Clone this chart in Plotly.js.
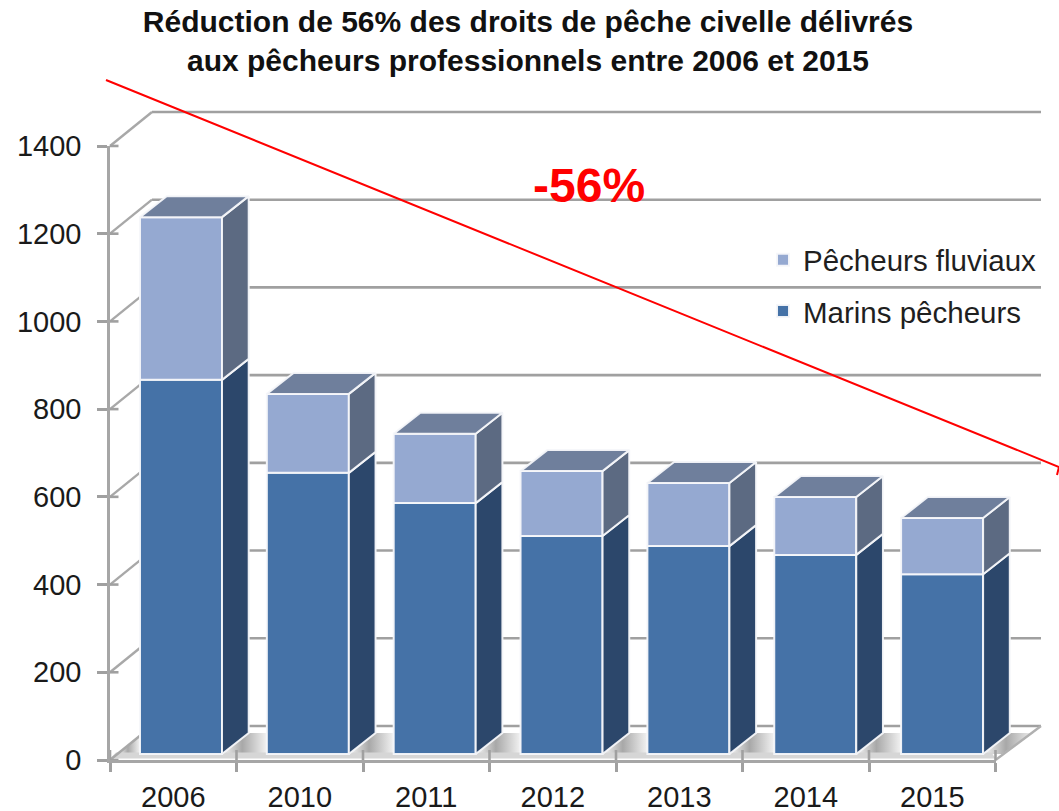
<!DOCTYPE html>
<html>
<head>
<meta charset="utf-8">
<script src="https://cdn.plot.ly/plotly-3.0.1.min.js"></script>
<style>html,body{margin:0;padding:0;background:#fff}#chart{width:1059px;height:811px}</style>
</head>
<body>
<div id="chart"></div>
<script>
// ---- data ----
const categories = ['2006','2010','2011','2012','2013','2014','2015'];
const marins     = [853, 641, 572, 497, 474, 454, 410];
const fluviaux   = [371, 180, 158, 148, 144, 132, 128];
const yTicks     = [0, 200, 400, 600, 800, 1000, 1200, 1400];
const seriesNames = ['Marins pêcheurs', 'Pêcheurs fluviaux'];

// ---- page geometry: pixel <-> data scales ----
const W = 1059, H = 811;
const FONT = '"Liberation Sans", Arial, sans-serif';
const catPx = 126.5, cat0Px = 173.25, unitPx = 0.4386, zeroPx = 760;
const X = px => (px - cat0Px) / catPx;
const V = py => (zeroPx - py) / unitPx;
const fullX = [X(0), X(W)], fullY = [V(H), V(0)];

const barWidth = 82 / catPx, barShift = 7.75 / catPx, barBase = 6 / unitPx;
const barPitch = 126.85 / catPx;
const depthX = 26.7 / catPx, depthV = 21 / unitPx;
const wallX = 42 / catPx, wallV = 34 / unitPx;
const EDGE = 'rgba(245,247,250,0.95)', EDGE_W = 2;

const totals = marins.map((m, i) => m + fluviaux[i]);
const idx = categories.map((_, i) => i);
const barC = i => i * barPitch + barShift;
const L = i => barC(i) - barWidth / 2;
const R = i => barC(i) + barWidth / 2;
const gridRight = X(1041), axisLeft = X(110), axisRight = X(995.5);

// ---- helpers ----
function polys(list) {
  const x = [], y = [];
  list.forEach(p => { p.forEach(q => { x.push(q[0]); y.push(q[1]); }); x.push(p[0][0]); y.push(p[0][1]); x.push(null); y.push(null); });
  return {x, y};
}
function face(list, color, xa, ya) {
  const g = polys(list);
  return {x: g.x, y: g.y, xaxis: xa, yaxis: ya, mode: 'lines', fill: 'toself', fillcolor: color,
    line: {color: EDGE, width: EDGE_W}, hoverinfo: 'skip', showlegend: false, type: 'scatter'};
}
function seg(list, color, width) {
  const x = [], y = [];
  list.forEach(s => { x.push(s[0], s[2], null); y.push(s[1], s[3], null); });
  return {x, y, xaxis: 'x', yaxis: 'y', mode: 'lines', line: {color, width}, hoverinfo: 'skip', showlegend: false, type: 'scatter'};
}

const traces = [];

// back layer: floor shading
const floorTopV = barBase + depthV;
const wedgeScale = [[0, '#f7f7f7'], [0.45, '#a8a8a8'], [1, '#f2f2f2']];
function wedge(pts) {
  const g = polys([pts]);
  traces.push({x: g.x, y: g.y, xaxis: 'x', yaxis: 'y', mode: 'none', fill: 'toself',
    fillgradient: {type: 'horizontal', colorscale: wedgeScale}, hoverinfo: 'skip', showlegend: false, type: 'scatter'});
}
wedge([[X(118), barBase], [X(137), floorTopV - 4 / unitPx], [L(0), floorTopV - 4 / unitPx], [L(0), barBase]]);
idx.slice(0, -1).forEach(i => wedge([[R(i), barBase], [R(i) + depthX, floorTopV], [L(i + 1), floorTopV], [L(i + 1), barBase]]));
wedge([[R(6), barBase], [R(6) + depthX, floorTopV], [X(1034), floorTopV], [X(1002), barBase]]);
traces.push({x: [axisLeft, axisRight, axisRight - 4 / catPx, axisLeft + 6 / catPx, axisLeft],
  y: [-1, -1, barBase - 1, barBase - 1, -1].map(v => v + 2 / unitPx), xaxis: 'x', yaxis: 'y', mode: 'none', fill: 'toself',
  fillcolor: '#d6d6d6', hoverinfo: 'skip', showlegend: false, type: 'scatter'});

// back layer: walls
traces.push(seg(yTicks.map(t => [axisLeft + wallX, t + wallV, gridRight, t + wallV]), '#a0a0a0', 2.6));
traces.push(seg(yTicks.map(t => [axisLeft, t, axisLeft + wallX, t + wallV]), '#a8a8a8', 2.4));
traces.push(seg([[axisRight, 0, gridRight, wallV]], '#b0b0b0', 2.4));
traces.push(seg(yTicks.map(t => [axisLeft, t, axisLeft + 8.5 / catPx, t]), '#a0a0a0', 2.6));
traces.push(seg(idx.concat([7]).map(i => [i - 0.5, 0, i - 0.5, 10 / unitPx]), '#a0a0a0', 2.6));

// tick axes
traces.push({x: categories, y: totals, xaxis: 'x2', yaxis: 'y2', mode: 'none', hoverinfo: 'skip', showlegend: false, type: 'scatter'});

// bars: front faces
traces.push({type: 'bar', name: seriesNames[0], x: idx.map(barC), y: marins, base: idx.map(() => barBase), width: barWidth,
  xaxis: 'x3', yaxis: 'y3', marker: {color: '#4572a7', line: {color: EDGE, width: EDGE_W}},
  legendgroup: 'a', legendrank: 2, hoverinfo: 'y'});
traces.push({type: 'bar', name: seriesNames[1], x: idx.map(barC), y: fluviaux, base: marins.map(m => m + barBase), width: barWidth,
  xaxis: 'x3', yaxis: 'y3', marker: {color: '#95a9d1', line: {color: EDGE, width: EDGE_W}},
  legendgroup: 'b', legendrank: 1, hoverinfo: 'y'});

// bars: side and top faces
traces.push(face(idx.map(i => [[R(i), barBase], [R(i) + depthX, barBase + depthV], [R(i) + depthX, barBase + marins[i] + depthV], [R(i), barBase + marins[i]]]), '#2c476b', 'x3', 'y3'));
traces.push(face(idx.map(i => [[R(i), barBase + marins[i]], [R(i) + depthX, barBase + marins[i] + depthV], [R(i) + depthX, barBase + totals[i] + depthV], [R(i), barBase + totals[i]]]), '#5c6a82', 'x3', 'y3'));
traces.push(face(idx.map(i => [[L(i), barBase + totals[i]], [L(i) + depthX, barBase + totals[i] + depthV], [R(i) + depthX, barBase + totals[i] + depthV], [R(i), barBase + totals[i]]]), '#6f7f9c', 'x3', 'y3'));

const hiddenAxis = {visible: false, showgrid: false, zeroline: false, fixedrange: true};

const layout = {
  width: W, height: H,
  margin: {l: 0, r: 0, t: 0, b: 0, pad: 0},
  paper_bgcolor: '#ffffff', plot_bgcolor: 'rgba(0,0,0,0)',
  barmode: 'overlay',
  font: {family: FONT, color: '#1a1a1a'},
  title: {
    text: 'Réduction de 56% des droits de pêche civelle délivrés<br>aux pêcheurs professionnels entre 2006 et 2015',
    font: {family: FONT, size: 30, color: '#111', weight: 'bold'},
    x: 528 / W, xanchor: 'center', xref: 'paper', y: 1 - 32 / H, yanchor: 'top', yref: 'container'
  },
  xaxis:  Object.assign({domain: [0, 1], range: fullX, anchor: 'y'}, hiddenAxis),
  yaxis:  Object.assign({domain: [0, 1], range: fullY, anchor: 'x'}, hiddenAxis),
  xaxis3: Object.assign({domain: [0, 1], range: fullX, anchor: 'y3'}, hiddenAxis),
  yaxis3: Object.assign({domain: [0, 1], range: fullY, anchor: 'x3'}, hiddenAxis),
  xaxis2: {
    domain: [110 / W, 995.5 / W], anchor: 'y2', type: 'category', categoryorder: 'array', categoryarray: categories,
    range: [-0.5, 6.5], tickson: 'boundaries', ticks: 'outside', ticklen: 9, tickwidth: 2.6, tickcolor: '#a0a0a0',
    showline: true, linecolor: '#a6a6a6', linewidth: 2.6, showgrid: false, zeroline: false, fixedrange: true,
    tickfont: {family: FONT, size: 29, color: '#1a1a1a'}, ticklabelstandoff: 9
  },
  yaxis2: {
    domain: [(H - zeroPx) / H, (H - 146) / H], anchor: 'x2', range: [0, 1400], tickmode: 'array', tickvals: yTicks,
    ticks: 'outside', ticklen: 10, tickwidth: 2.6, tickcolor: '#a0a0a0',
    showline: true, linecolor: '#a6a6a6', linewidth: 2.6, showgrid: false, zeroline: false, fixedrange: true,
    tickfont: {family: FONT, size: 29, color: '#1a1a1a'}, ticklabelstandoff: 10
  },
  legend: {
    x: 763 / W, xanchor: 'left', y: 1 - 234 / H, yanchor: 'top', bgcolor: 'rgba(0,0,0,0)',
    traceorder: 'grouped', tracegroupgap: 10, itemwidth: 30, itemclick: false, itemdoubleclick: false,
    font: {family: FONT, size: 29.5, color: '#1f1f1f'}
  },
  shapes: [{
    type: 'path', xref: 'paper', yref: 'paper', layer: 'above',
    path: `M ${106 / W} ${1 - 80 / H} L ${1059 / W} ${1 - 467 / H} M ${1059 / W} ${1 - 467 / H} L ${1057 / W} ${1 - 475 / H}`,
    line: {color: '#ff0000', width: 2}
  }],
  annotations: [{
    text: '<b>-56%</b>', xref: 'paper', yref: 'paper', x: 589 / W, y: 1 - 185 / H, xanchor: 'center', yanchor: 'middle',
    showarrow: false, font: {family: FONT, size: 48, color: '#ff0000'}
  }]
};

Plotly.newPlot('chart', traces, layout, {displayModeBar: false, staticPlot: false, responsive: false});
</script>
</body>
</html>
